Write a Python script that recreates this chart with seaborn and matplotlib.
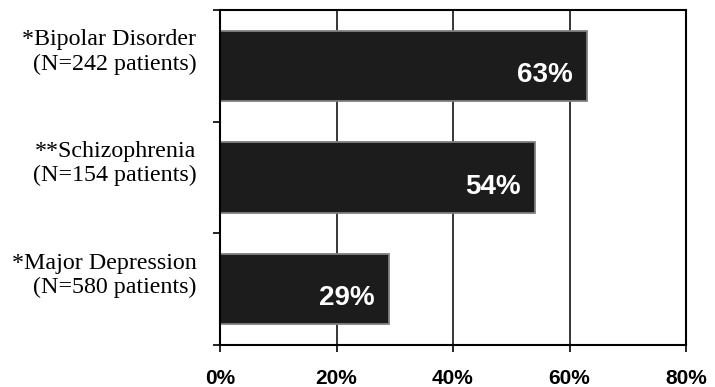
import matplotlib
matplotlib.use("Agg")
import matplotlib.pyplot as plt
import matplotlib.transforms as mtransforms
from matplotlib.ticker import FixedLocator, FuncFormatter
import seaborn as sns
import pandas as pd

categories = ["*Bipolar Disorder\n(N=242 patients)",
              "**Schizophrenia\n(N=154 patients)",
              "*Major Depression\n(N=580 patients)"]
values = [63, 54, 29]
x_ticks = [0, 20, 40, 60, 80]

df = pd.DataFrame({"cat": categories, "val": values})

sns.set_theme(style="white")
plt.rcParams['font.family'] = ['Liberation Sans', 'DejaVu Sans']

fig = plt.figure(figsize=(7.15, 3.87), dpi=100)
ax = fig.add_axes([220/715, 1-345/387, (686-220)/715, (345-10)/387])

sns.barplot(data=df, x="val", y="cat", orient="h", ax=ax, color="#1c1c1c",
            width=0.63, edgecolor="#808080", linewidth=1.3, saturation=1)

ax.set_xlim(0, 80)
ax.set_ylim(2.5, -0.5)
ax.set_xlabel("")
ax.set_ylabel("")

# x axis
ax.set_xticks(x_ticks)
ax.xaxis.set_major_formatter(FuncFormatter(lambda v, p: f"{int(v)}%"))
for lab in ax.get_xticklabels():
    lab.set_fontweight("bold")
    lab.set_fontsize(15)
    lab.set_color("black")
ax.tick_params(axis="x", which="major", direction="out", length=5, width=1.2,
               color="black", pad=12, bottom=True)

# vertical grid
ax.set_axisbelow(True)
ax.grid(axis="x", color="black", linewidth=1.1)
ax.grid(axis="y", visible=False)

# y axis: boundary ticks (major), category labels (minor)
n = len(categories)
ax.yaxis.set_major_locator(FixedLocator([i - 0.5 for i in range(n + 1)]))
ax.yaxis.set_major_formatter(FuncFormatter(lambda v, p: ""))
ax.yaxis.set_minor_locator(FixedLocator(list(range(n))))
ax.set_yticklabels(categories, minor=True)
ax.tick_params(axis="y", which="major", direction="out", length=5, width=1.2,
               color="black", left=True)
ax.tick_params(axis="y", which="minor", length=0, pad=17)
shift = mtransforms.ScaledTranslation(0, 13/72, fig.dpi_scale_trans)
for lab in ax.get_yticklabels(minor=True):
    lab.set_fontfamily(["Liberation Serif", "DejaVu Serif"])
    lab.set_fontsize(17.3)
    lab.set_color("black")
    lab.set_multialignment("right")
    lab.set_transform(lab.get_transform() + shift)

for side in ["left", "bottom", "top", "right"]:
    ax.spines[side].set_visible(True)
    ax.spines[side].set_color("black")
    ax.spines[side].set_linewidth(1.5)

# value labels
for cont in ax.containers:
    labels = [f"{int(v)}%" for v in cont.datavalues]
    ax.bar_label(cont, labels=labels, label_type="edge", padding=-10,
                 color="white", fontsize=20, fontweight="bold",
                 fontfamily=["Liberation Sans", "DejaVu Sans"])
for t in ax.texts:
    t.set_ha("right")
    t.xyann = (-10, -6.5)

fig.savefig("out.png", dpi=100)
